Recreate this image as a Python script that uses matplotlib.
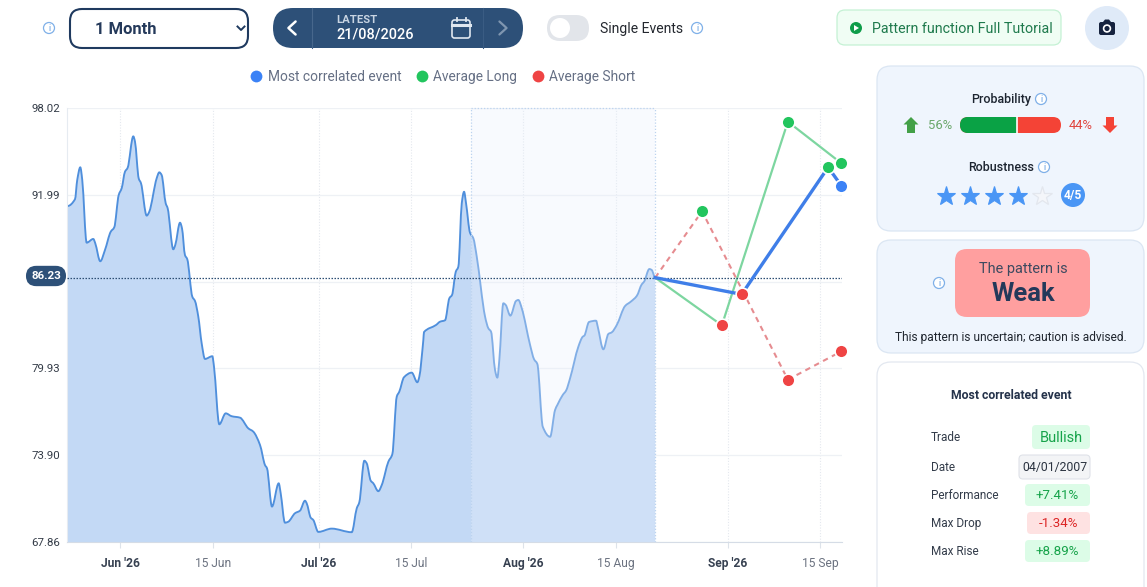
#!/usr/bin/env python3

from matplotlib import pyplot as plt
from matplotlib.lines import Line2D
from matplotlib.patches import Circle, FancyBboxPatch, PathPatch, Polygon
from matplotlib.path import Path

W, H = 1147, 587
plt.rcParams["font.family"] = ["Roboto", "DejaVu Sans"]

# days counted from 1 Jun 2026
price_days = [
    -8.0, -6.89, -6.55, -6.09, -5.79, -5.12, -4.12, -3.82, -3.06, -2.35, -1.48, -0.94,
    -0.27, 0.18, 0.68, 1.09, 1.94, 2.20, 2.76, 3.11, 3.97, 4.36, 5.48, 5.88, 6.24,
    6.85, 7.15, 8.00, 8.30, 9.02, 9.32, 9.77, 10.12, 10.88, 11.29, 11.79, 12.30, 12.80,
    13.91, 14.17, 14.97, 15.94, 16.85, 18.11, 19.36, 20.12, 21.14, 21.89, 22.20, 22.95,
    23.97, 24.27, 24.92, 25.42, 26.44, 27.20, 27.95, 28.21, 28.82, 29.21, 29.97, 32.0,
    35.03, 35.79, 36.18, 36.94, 37.30, 37.91, 38.30, 39.06, 39.58, 40.58, 41.18, 41.85,
    42.24, 42.95, 44.12, 44.97, 45.27, 45.88, 45.98, 47.8, 48.41, 49.17, 49.82, 50.23,
    50.79, 51.18, 51.70, 52.05, 52.35, 52.95, 53.45, 53.97, 55.23, 55.73, 56.14, 56.74,
    57.09, 57.39, 58.0, 58.36, 59.06, 59.92, 60.27, 60.79, 62.05, 62.65, 63.15, 63.97,
    65.08, 65.83, 66.18, 67.0, 67.5, 68.11, 69.36, 70.03, 70.27, 70.98, 72.05, 72.3,
    73.15, 73.91, 74.42, 75.18, 76.44, 77.3, 78.21, 78.97, 79.32, 80.12, 80.48, 81.0,
]
price_values = [
    91.21, 91.68, 93.02, 93.90, 93.02, 88.66, 88.92, 88.62, 87.37, 88.15, 89.42, 89.73,
    91.97, 92.44, 93.59, 93.87, 96.05, 95.68, 93.13, 92.79, 90.54, 90.81, 93.13, 93.55, 93.36,
    91.40, 91.05, 88.20, 88.50, 90.05, 89.66, 87.80, 87.51, 84.91, 84.61, 83.52, 81.67, 80.58,
    80.77, 80.04, 76.04, 76.80, 76.60, 76.50, 75.76, 75.53, 74.60, 73.21, 72.98, 70.32,
    71.94, 71.25, 69.20, 69.27, 69.86, 70.04, 70.73, 70.55, 69.55, 69.39, 68.56, 68.79,
    68.54, 70.20, 70.62, 73.51, 73.33, 72.12, 71.94, 71.39, 71.82, 73.44, 73.96, 77.96,
    78.31, 79.31, 79.63, 78.96, 79.35, 81.90, 82.45, 82.94, 83.17, 83.27, 84.80, 85.03,
    86.64, 86.99, 91.40, 92.20, 91.40, 89.35, 88.97, 87.69, 83.52, 82.71, 82.47, 79.81,
    79.28, 80.51, 84.45, 84.33, 83.59, 84.61, 84.68, 84.10, 81.55, 80.56, 80.23, 75.87,
    75.17, 77.03, 77.38, 78.08, 78.38, 79.24, 81.43, 82.13, 82.20, 83.15, 83.24, 82.82,
    81.25, 82.32, 82.43, 82.94, 84.26, 84.56, 84.96, 85.77, 85.95, 86.83, 86.76, 86.23,
]

last_price = 86.23
pattern_start = 53.1
pattern_end = 81.0

correlated_days = [81.0, 94.1, 107.2, 109.2]
correlated_values = [86.23, 85.07, 93.90, 92.62]
correlated_marks = ["none", "red", "green", "blue"]

long_days = [81.0, 91.1, 101.1, 109.2]
long_values = [86.23, 82.92, 97.07, 94.18]
long_marks = ["none", "red", "green", "green"]

short_days = [81.0, 88.1, 101.1, 109.2]
short_values = [86.23, 90.84, 79.14, 81.11]
short_marks = ["none", "green", "red", "red"]

y_ticks = [98.02, 91.99, 85.96, 79.93, 73.90, 67.86]
y_labels = ["98.02", "91.99", "", "79.93", "73.90", "67.86"]
x_ticks = [0, 14, 30, 44, 61, 75, 92, 106]
x_labels = ["Jun '26", "15 Jun", "Jul '26", "15 Jul", "Aug '26", "15 Aug", "Sep '26", "15 Sep"]

legend_labels = ["Most correlated event", "Average Long", "Average Short"]
event_rows = ["Trade", "Date", "Performance", "Max Drop", "Max Rise"]
event_values = ["Bullish", "04/01/2007", "+7.41%", "-1.34%", "+8.89%"]
prob_up = 56
prob_down = 44
robustness = 4

BLUE = "#3f7ee8"
GREEN = "#22c55e"
RED = "#ef4444"
NAVY = "#2d5078"
DARK = "#24395a"
MARK_COLORS = {"red": RED, "green": GREEN, "blue": "#3b82f6"}


def px(size):
    return size * 0.72


def curve_vertices(xs, ys):
    """Bezier segments through the points, flat at turning points like the source chart."""
    n = len(xs)
    slopes = [0.0] * n
    for i in range(1, n - 1):
        left = (ys[i] - ys[i - 1]) / (xs[i] - xs[i - 1])
        right = (ys[i + 1] - ys[i]) / (xs[i + 1] - xs[i])
        if left * right > 0:
            slopes[i] = 2 * left * right / (left + right)
    verts = [(xs[0], ys[0])]
    codes = [Path.MOVETO]
    for i in range(n - 1):
        third = (xs[i + 1] - xs[i]) / 3.0
        verts += [(xs[i] + third, ys[i] + slopes[i] * third),
                  (xs[i + 1] - third, ys[i + 1] - slopes[i + 1] * third),
                  (xs[i + 1], ys[i + 1])]
        codes += [Path.CURVE4] * 3
    return verts, codes


def box(ui, x0, y0, x1, y1, radius, face, edge="none", lw=1.0, zorder=1):
    patch = FancyBboxPatch((x0 + radius, y0 + radius), x1 - x0 - 2 * radius, y1 - y0 - 2 * radius,
                           boxstyle="round,pad=%f,rounding_size=%f" % (radius, radius),
                           facecolor=face, edgecolor=edge, linewidth=lw, zorder=zorder)
    ui.add_patch(patch)


def info_icon(ui, x, y, r=5.5):
    ui.add_patch(Circle((x, y), r, facecolor="white", edgecolor="#7fb0e8", linewidth=0.9, zorder=3))
    ui.text(x, y + 0.6, "i", color="#5d9ae0", fontsize=px(9), ha="center", va="center", zorder=4)


def chevron(ui, x, y, size, direction, color, lw=1.6):
    ui.plot([x - direction * size * 0.55, x + direction * size * 0.55, x - direction * size * 0.55],
            [y - size, y, y + size], color=color, linewidth=lw, zorder=4,
            solid_capstyle="round", solid_joinstyle="round")


def draw_chart(fig):
    ax = fig.add_axes([67 / W, 1 - 542 / H, (842 - 67) / W, (542 - 108) / H], facecolor="none")
    ax.set_xlim(-8.1, 109.3)
    ax.set_ylim(67.86, 98.02)

    verts, codes = curve_vertices(price_days, price_values)
    area = Path(verts + [(price_days[-1], 67.86), (price_days[0], 67.86), verts[0]],
                codes + [Path.LINETO, Path.LINETO, Path.CLOSEPOLY])
    ax.add_patch(PathPatch(area, facecolor="#c3d9f5", edgecolor="none", zorder=2))
    ax.add_patch(PathPatch(Path(verts, codes), facecolor="none", edgecolor="#4f8fdc", linewidth=1.35,
                           joinstyle="round", zorder=2.5))

    # the highlighted window washes out whatever lies below it
    ax.axvspan(pattern_start, pattern_end, facecolor=(234 / 255, 240 / 255, 252 / 255),
               alpha=0.33, linewidth=0, zorder=3)
    ax.axvline(pattern_start, color="#bcd3ef", linewidth=0.9, linestyle=(0, (1, 1.5)), zorder=3.1)
    ax.axvline(pattern_end, color="#bcd3ef", linewidth=0.9, linestyle=(0, (1, 1.5)), zorder=3.1)
    ax.hlines(98.02, pattern_start, pattern_end, color="#bcd3ef", linewidth=0.9,
              linestyle=(0, (1, 1.5)), clip_on=False, zorder=3.1)

    ax.plot(long_days, long_values, color="#7dd6a0", linewidth=1.6, zorder=4)
    ax.plot(short_days, short_values, color="#e68c90", linewidth=1.5, linestyle=(0, (2.6, 2.2)), zorder=4)
    ax.axhline(last_price, color="#2d4f74", linewidth=0.9, linestyle=(0, (1.2, 1.2)), zorder=4.5)
    ax.plot(correlated_days, correlated_values, color=BLUE, linewidth=2.4, zorder=5)

    for days, values, marks in [(long_days, long_values, long_marks),
                                (short_days, short_values, short_marks),
                                (correlated_days, correlated_values, correlated_marks)]:
        for day, value, mark in zip(days, values, marks):
            if mark != "none":
                ax.plot(day, value, "o", color=MARK_COLORS[mark], markersize=9.2,
                        markeredgecolor="white", markeredgewidth=1.2, clip_on=False, zorder=6)

    ax.set_xticks(x_ticks)
    ax.set_xticklabels(x_labels, fontsize=px(12), color="#6b7280")
    for label, text in zip(ax.get_xticklabels(), x_labels):
        if "'" in text:
            label.set_fontweight("bold")
            label.set_color("#374151")
    ax.set_yticks(y_ticks)
    ax.set_yticklabels(y_labels, fontsize=px(11.5), color="#333b47")
    ax.tick_params(axis="x", length=4, color="#dde3ea", pad=6.5)
    ax.tick_params(axis="y", length=0, pad=5)
    ax.grid(axis="y", color="#eef1f5", linewidth=0.9, zorder=1)
    ax.grid(axis="x", color="#e4e8ee", linewidth=0.8, linestyle=(0, (1, 1.5)), zorder=1)
    ax.set_axisbelow(True)
    for side in ["top", "right"]:
        ax.spines[side].set_visible(False)
    ax.spines["left"].set_color("#e6ebf1")
    ax.spines["bottom"].set_color("#d5dce6")

    ax.annotate("%.2f" % last_price, xy=(-0.0271, last_price), xycoords=ax.get_yaxis_transform(),
                xytext=(0, 1.2), textcoords="offset points",
                color="white", fontsize=px(11.5), fontweight="bold", ha="center", va="center",
                bbox=dict(boxstyle="round,pad=0.45,rounding_size=0.9", facecolor=NAVY, edgecolor="none"),
                annotation_clip=False, zorder=7)

    handles = [Line2D([], [], linestyle="none", marker="o", markersize=8.5, color=c, markeredgewidth=0)
               for c in ["#3b82f6", GREEN, RED]]
    fig.legend(handles, legend_labels, ncol=3, loc="center", bbox_to_anchor=(443 / W, 1 - 77 / H),
               frameon=False, fontsize=px(13.7), labelcolor="#667085", handlelength=0.8,
               handletextpad=0.42, columnspacing=1.1, borderpad=0)


def draw_toolbar(ui):
    info_icon(ui, 49, 28)
    box(ui, 70, 9, 248, 48, 12, "white", "#1f3a5f", 1.5)
    ui.text(95, 29.5, "1 Month", fontsize=px(16.5), fontweight="bold", color=DARK, va="center")
    ui.plot([237.5, 241, 244.5], [26.5, 30, 26.5], color="#1f3a5f", linewidth=1.4, zorder=3)

    box(ui, 273, 8, 523, 48, 20, NAVY)
    ui.plot([312, 312], [8, 48], color="#47678c", linewidth=0.8, zorder=2)
    ui.plot([483, 483], [8, 48], color="#3a5c83", linewidth=0.8, zorder=2)
    chevron(ui, 292, 28, 6.5, -1, "white", 1.8)
    chevron(ui, 503, 28, 6.5, 1, "#7f96b0", 1.6)
    ui.text(336, 20, "LATEST", fontsize=px(11.4), fontweight="bold", color="#c8d4e2", va="center", zorder=3)
    ui.text(336, 34.5, "21/08/2026", fontsize=px(14.5), fontweight="medium", color="white", va="center", zorder=3)
    box(ui, 452, 20, 470, 38, 2.5, "none", "#dfe7f0", 1.2, zorder=3)
    ui.plot([452, 470], [24.5, 24.5], color="#dfe7f0", linewidth=2.2, zorder=3)
    ui.plot([465.5, 465.5], [17.5, 21], color="#dfe7f0", linewidth=1.3, zorder=3)
    ui.plot([456.5, 456.5], [17.5, 21], color="#dfe7f0", linewidth=1.3, zorder=3)

    box(ui, 547, 15, 589, 41, 13, "#e2e5ea")
    ui.add_patch(Circle((560, 28), 10, facecolor="white", edgecolor="none", zorder=3))
    ui.text(600, 29, "Single Events", fontsize=px(14), color="#23272e", va="center")
    info_icon(ui, 697, 28)

    box(ui, 837, 10, 1061, 45, 8, "#f0fdf4", "#c4f1d4", 0.9)
    ui.add_patch(Circle((856, 28), 6, facecolor="#0f9d4a", edgecolor="none", zorder=3))
    ui.add_patch(Polygon([(854, 25), (854, 31), (859, 28)], facecolor="white", edgecolor="none", zorder=4))
    ui.text(872, 29, "Pattern function Full Tutorial", fontsize=px(14.2), color="#1f7a4d", va="center")

    ui.add_patch(Circle((1107, 28), 22, facecolor="#dfeaf8", edgecolor="none", zorder=1))
    box(ui, 1099, 22, 1115, 35, 2, "#16233f", zorder=3)
    ui.add_patch(Polygon([(1103, 22), (1105, 19.5), (1109, 19.5), (1111, 22)], facecolor="#16233f",
                         edgecolor="none", zorder=3))
    ui.add_patch(Circle((1107, 28.5), 3.4, facecolor="#16233f", edgecolor="white", linewidth=1.2, zorder=4))


def draw_probability(ui):
    box(ui, 877, 66, 1144, 231, 14, "#eff5fd", "#dbe6f3", 0.9)
    ui.text(1001, 99.7, "Probability", fontsize=px(12.5), fontweight="medium", color="#1c2430",
            ha="center", va="center")
    info_icon(ui, 1041, 99)

    ui.add_patch(Polygon([(911, 117), (918.5, 124.5), (915, 124.5), (915, 133), (907, 133), (907, 124.5),
                          (903.5, 124.5)], facecolor="#43a047", edgecolor="none", zorder=3))
    ui.text(940, 125.5, "%d%%" % prob_up, fontsize=px(13), color="#6aa76a", ha="center", va="center")
    split = 960 + (1061 - 960) * prob_up / 100.0
    box(ui, 960, 117, 1061, 133, 8, "#f44336", zorder=2)
    box(ui, 960, 117, split + 8, 133, 8, "#0aa245", zorder=3)
    ui.add_patch(Polygon([(split, 117), (split + 9, 117), (split + 9, 133), (split, 133)],
                         facecolor="#f44336", edgecolor="none", zorder=3.5))
    ui.plot([split, split], [117, 133], color="white", linewidth=1.2, zorder=4)
    ui.text(1081, 125.5, "%d%%" % prob_down, fontsize=px(13), color="#e0453f", ha="center", va="center")
    ui.add_patch(Polygon([(1110, 133), (1102.5, 125.5), (1106, 125.5), (1106, 117), (1114, 117), (1114, 125.5),
                          (1117.5, 125.5)], facecolor="#f44336", edgecolor="none", zorder=3))

    ui.text(1001, 167.7, "Robustness", fontsize=px(12.5), fontweight="medium", color="#1c2430",
            ha="center", va="center")
    info_icon(ui, 1044, 167)
    for i in range(5):
        if i < robustness:
            ui.plot(946 + 24 * i, 195.5, "*", color="#4a96f5", markersize=14, markeredgecolor="#4a96f5",
                    markeredgewidth=0.8, zorder=3)
        else:
            ui.plot(946 + 24 * i, 195.5, "*", markerfacecolor="#f4f6fa", markeredgecolor="#e3e7ee",
                    markersize=14.5, markeredgewidth=0.9, zorder=3)
    ui.add_patch(Circle((1073, 195), 12, facecolor="#4a96f5", edgecolor="none", zorder=3))
    ui.text(1073, 195.7, "%d/5" % robustness, fontsize=px(12), fontweight="bold", color="white",
            ha="center", va="center", zorder=4)


def draw_verdict(ui):
    box(ui, 877, 240, 1144, 353, 14, "#eff5fd", "#dbe6f3", 0.9)
    info_icon(ui, 939, 283)
    box(ui, 955, 249, 1090, 317, 12, "#ff9f9f", zorder=2)
    ui.text(1023, 269, "The pattern is", fontsize=px(14.5), color="#3d4a60", ha="center", va="center", zorder=3)
    ui.text(1023, 294, "Weak", fontsize=px(25.5), fontweight="bold", color=DARK, ha="center", va="center", zorder=3)
    ui.text(1010.5, 337.7, "This pattern is uncertain; caution is advised.", fontsize=px(11.85),
            color="#20262f", ha="center", va="center", zorder=3)


def draw_event(ui):
    box(ui, 877, 362, 1144, 610, 14, "white", "#e3e8f0", 0.9)
    ui.text(1011, 395.7, "Most correlated event", fontsize=px(12.3), fontweight="bold", color="#24324a",
            ha="center", va="center", zorder=3)

    row_y = [437, 467, 495, 523, 551]
    left = [1032, 1019, 1025, 1027, 1025]
    half = [12, 12, 11, 11, 11]
    faces = ["#dcfce7", "#f3f4f6", "#dcfce7", "#fee2e2", "#dcfce7"]
    colors = ["#16a34a", "#2b3340", "#16a34a", "#dc2626", "#16a34a"]
    sizes = [14.5, 12.2, 13.4, 13.4, 13.4]
    for i, name in enumerate(event_rows):
        ui.text(931, row_y[i] + 0.8, name, fontsize=px(11.8), color="#333c4a", va="center", zorder=3)
        edge = "#dfe2e8" if name == "Date" else "none"
        box(ui, left[i], row_y[i] - half[i], 1090, row_y[i] + half[i], 4, faces[i], edge, 0.8, zorder=2)
        ui.text((left[i] + 1090) / 2.0, row_y[i] + 0.8, event_values[i], fontsize=px(sizes[i]),
                color=colors[i], ha="center", va="center", zorder=3)


def main():
    fig = plt.figure(figsize=(W / 100, H / 100), dpi=100, facecolor="white")

    ui = fig.add_axes([0, 0, 1, 1])
    ui.set_xlim(0, W)
    ui.set_ylim(H, 0)
    ui.axis("off")

    draw_chart(fig)
    draw_toolbar(ui)
    draw_probability(ui)
    draw_verdict(ui)
    draw_event(ui)

    fig.savefig("out.png", dpi=100)


if __name__ == "__main__":
    main()
